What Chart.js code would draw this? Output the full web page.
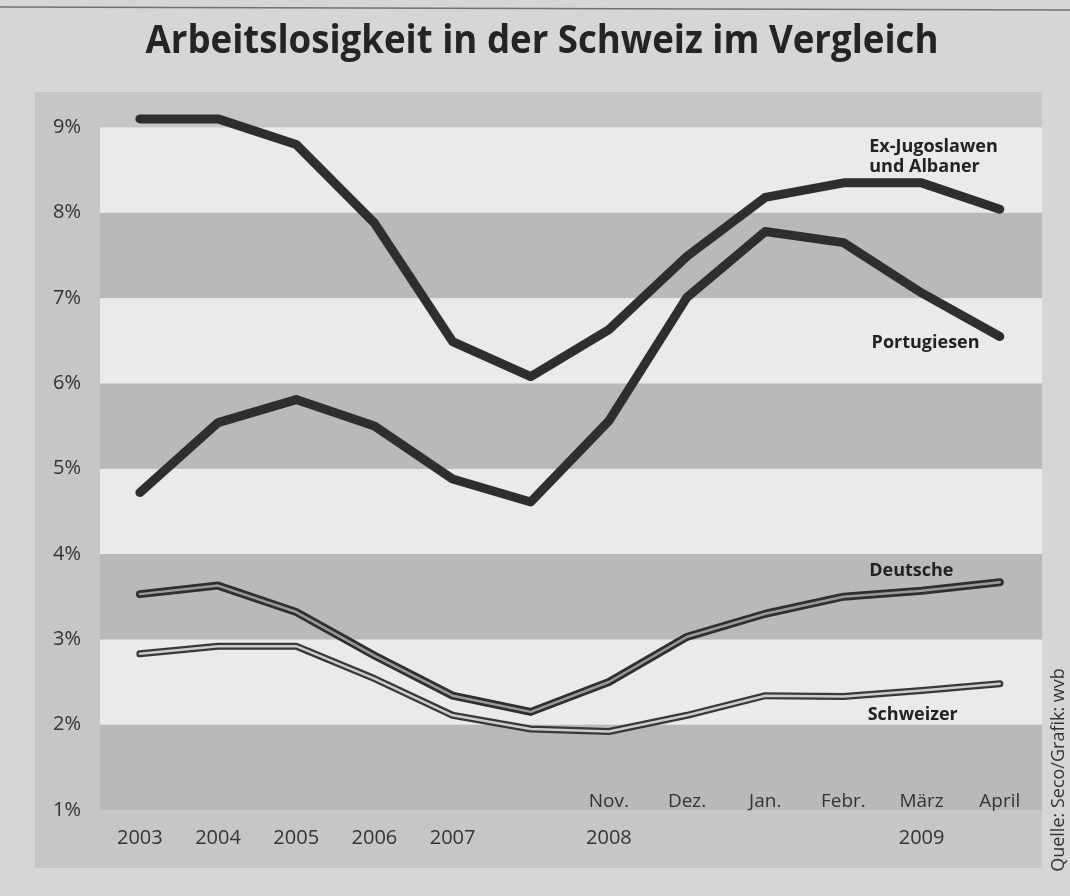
<!DOCTYPE html>
<html>
<head>
<meta charset="utf-8">
<title>Arbeitslosigkeit in der Schweiz im Vergleich</title>
<script src="https://cdn.jsdelivr.net/npm/chart.js@4/dist/chart.umd.min.js"></script>
<style>
  html, body { margin: 0; padding: 0; background: #d4d4d4; }
  #wrap { width: 1070px; height: 896px; }
</style>
</head>
<body>
<div id="wrap"><canvas id="unemploymentChart" width="1070" height="896"></canvas></div>
<script>
// x positions: 5 annual values, then monthly values (Okt. 2008 - April 2009)
const yearLabels = ['2003', '2004', '2005', '2006', '2007', '', '2008', '', '', '', '2009', ''];
const monthLabels = ['', '', '', '', '', '', 'Nov.', 'Dez.', 'Jan.', 'Febr.', 'März', 'April'];

const exJugoslawen = [9.10, 9.10, 8.80, 7.88, 6.49, 6.08, 6.63, 7.49, 8.18, 8.35, 8.35, 8.04];
const portugiesen = [4.72, 5.54, 5.81, 5.50, 4.88, 4.61, 5.56, 7.01, 7.78, 7.65, 7.06, 6.55];
const deutsche = [3.53, 3.63, 3.32, 2.81, 2.34, 2.15, 2.50, 3.03, 3.30, 3.50, 3.57, 3.67];
const schweizer = [2.83, 2.92, 2.92, 2.54, 2.11, 1.95, 1.92, 2.11, 2.34, 2.33, 2.40, 2.48];

const yTicks = [1, 2, 3, 4, 5, 6, 7, 8, 9];

// series names written next to the lines: [text lines, x (index), y (%)]
const seriesNames = [
    [['Ex-Jugoslawen', 'und Albaner'], 9.33, 8.77],
    [['Portugiesen'], 9.36, 6.47],
    [['Deutsche'], 9.33, 3.80],
    [['Schweizer'], 9.31, 2.12]
];

const toPoints = values => values.map((v, i) => ({ x: i, y: v }));

const backdrop = {
    id: 'backdrop',
    beforeDraw(chart) {
        const { ctx, chartArea: area, scales: { y } } = chart;
        ctx.save();
        ctx.fillStyle = '#d6d6d6';
        ctx.fillRect(0, 0, chart.width, chart.height);

        // thin rule along the top edge of the clipping
        ctx.strokeStyle = '#707070';
        ctx.lineWidth = 1.5;
        ctx.beginPath();
        ctx.moveTo(0, 7);
        ctx.lineTo(chart.width, 10);
        ctx.stroke();

        // grey panel behind the chart
        ctx.fillStyle = '#c6c6c6';
        ctx.fillRect(35, area.top, area.right - 35, 868 - area.top);

        // alternating bands, one per percent
        for (let v = 1; v < 9; v++) {
            const top = y.getPixelForValue(v + 1);
            const bottom = y.getPixelForValue(v);
            ctx.fillStyle = v % 2 ? '#b9b9b9' : '#eaeaea';
            ctx.fillRect(area.left, top, area.right - area.left, bottom - top);
        }

        // title, slightly condensed
        ctx.fillStyle = '#242424';
        ctx.font = 'bold 40px "Open Sans"';
        ctx.textAlign = 'center';
        ctx.textBaseline = 'middle';
        ctx.translate(542, 42);
        ctx.scale(0.915, 1);
        ctx.fillText('Arbeitslosigkeit in der Schweiz im Vergleich', 0, 0);
        ctx.restore();
    },
    afterDatasetsDraw(chart) {
        const { ctx, scales: { x, y } } = chart;
        ctx.save();
        ctx.fillStyle = '#333';
        ctx.textAlign = 'center';
        ctx.textBaseline = 'middle';
        ctx.font = '19px "Open Sans"';
        monthLabels.forEach((label, i) => {
            if (label) ctx.fillText(label, x.getPixelForValue(i), y.getPixelForValue(1) - 8);
        });

        ctx.fillStyle = '#222';
        ctx.textAlign = 'left';
        ctx.font = 'bold 18px "Open Sans"';
        seriesNames.forEach(([lines, xv, yv]) => {
            lines.forEach((line, k) => {
                ctx.fillText(line, x.getPixelForValue(xv), y.getPixelForValue(yv) + k * 20);
            });
        });

        // source, written upwards along the right edge
        ctx.translate(1059, 770);
        ctx.rotate(-Math.PI / 2);
        ctx.textAlign = 'center';
        ctx.font = '18px "Open Sans"';
        ctx.fillStyle = '#333';
        ctx.fillText('Quelle: Seco/Grafik: wvb', 0, 0);
        ctx.restore();
    }
};

function renderChart() {
    const ctx = document.getElementById('unemploymentChart').getContext('2d');
    const thick = { borderColor: '#2e2e2e', borderWidth: 9, order: 1 };

    new Chart(ctx, {
        type: 'line',
        data: {
            datasets: [
                { label: 'Ex-Jugoslawen und Albaner', data: toPoints(exJugoslawen), ...thick },
                { label: 'Portugiesen', data: toPoints(portugiesen), ...thick },
                { label: 'Deutsche', data: toPoints(deutsche), borderColor: '#2f2f2f', borderWidth: 8, order: 2 },
                { label: 'Deutsche (Kern)', data: toPoints(deutsche), borderColor: '#9a9a9a', borderWidth: 2.5, order: 0 },
                { label: 'Schweizer', data: toPoints(schweizer), borderColor: '#383838', borderWidth: 7, order: 2 },
                { label: 'Schweizer (Kern)', data: toPoints(schweizer), borderColor: '#cdcdcd', borderWidth: 2.5, order: 0 }
            ]
        },
        options: {
            responsive: false,
            animation: false,
            layout: { padding: { left: 53, top: 92, right: 28, bottom: 30 } },
            plugins: {
                legend: { display: false },
                tooltip: { enabled: false }
            },
            elements: {
                point: { radius: 0 },
                line: { tension: 0, borderCapStyle: 'round', borderJoinStyle: 'round', fill: false }
            },
            scales: {
                x: {
                    type: 'linear',
                    min: -0.51,
                    max: 11.54,
                    grid: { display: false, drawTicks: false },
                    border: { display: false },
                    afterBuildTicks: axis => {
                        axis.ticks = yearLabels.map((_, i) => ({ value: i }));
                    },
                    afterFit: axis => { axis.height = 56; },
                    ticks: {
                        autoSkip: false,
                        maxRotation: 0,
                        padding: 16,
                        color: '#333',
                        font: { family: 'Open Sans', size: 20 },
                        callback: value => yearLabels[value]
                    }
                },
                y: {
                    min: 1,
                    max: 9.415,
                    grid: { display: false, drawTicks: false },
                    border: { display: false },
                    afterBuildTicks: axis => {
                        axis.ticks = yTicks.map(v => ({ value: v }));
                    },
                    afterFit: axis => { axis.width = 47; },
                    ticks: {
                        crossAlign: 'far',
                        padding: 0,
                        color: '#333',
                        font: { family: 'Open Sans', size: 20 },
                        callback: value => value + '%'
                    }
                }
            }
        },
        plugins: [backdrop]
    });
}

Promise.all([
    document.fonts.load('bold 40px "Open Sans"'),
    document.fonts.load('19px "Open Sans"')
]).catch(() => {}).then(renderChart);
</script>
</body>
</html>
